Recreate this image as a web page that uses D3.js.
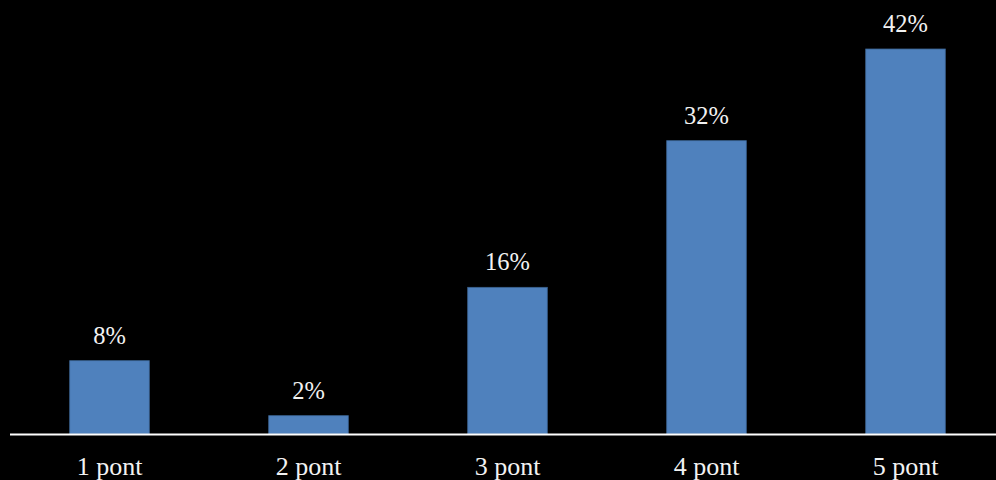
<!DOCTYPE html>
<html><head><meta charset="utf-8">
<script src="https://cdn.jsdelivr.net/npm/d3@7"></script>
<style>html,body{margin:0;padding:0;background:#000;}svg{display:block;}</style>
</head><body>
<svg id="chart" width="996" height="480"></svg>
<script>
const categories = ["1 pont","2 pont","3 pont","4 pont","5 pont"];
const values = [8, 2, 16, 32, 42];
const valueLabels = ["8%","2%","16%","32%","42%"];

const svg = d3.select("#chart");
const W = 996, H = 480;
svg.append("rect").attr("width", W).attr("height", H).attr("fill", "#000");

const x = d3.scaleBand().domain(categories).range([10, 1005]).paddingInner(0.6).paddingOuter(0.3);
const y = d3.scaleLinear().domain([0, 42]).range([434, 49]);

const font = '"Liberation Serif","Times New Roman",serif';

svg.selectAll("rect.bar").data(values).enter().append("rect")
  .attr("class","bar")
  .attr("x", (d,i) => x(categories[i]))
  .attr("width", x.bandwidth())
  .attr("y", d => y(d))
  .attr("height", d => y(0) - y(d))
  .attr("fill", "#4F81BD")
  .attr("stroke", "#3A6290").attr("stroke-width", 0.8);

svg.selectAll("text.val").data(values).enter().append("text")
  .attr("class","val")
  .attr("x", (d,i) => x(categories[i]) + x.bandwidth()/2)
  .attr("y", d => y(d) - 17)
  .attr("text-anchor","middle")
  .attr("fill","#f2f2f2")
  .style("font-family", font).style("font-size", "24.5px")
  .text((d,i) => valueLabels[i]);

const axis = d3.axisBottom(x).tickSize(0).tickPadding(0);
const g = svg.append("g").attr("transform", "translate(0,434.5)").call(axis);
g.attr("font-family", null);
g.select(".domain").attr("stroke","#fff").attr("stroke-width",2).attr("d","M10,0H996");
g.selectAll(".tick text")
  .attr("fill","#f2f2f2").style("font-family", font).style("font-size", "26px")
  .attr("dy", null).attr("y", 40);
</script>
</body></html>
